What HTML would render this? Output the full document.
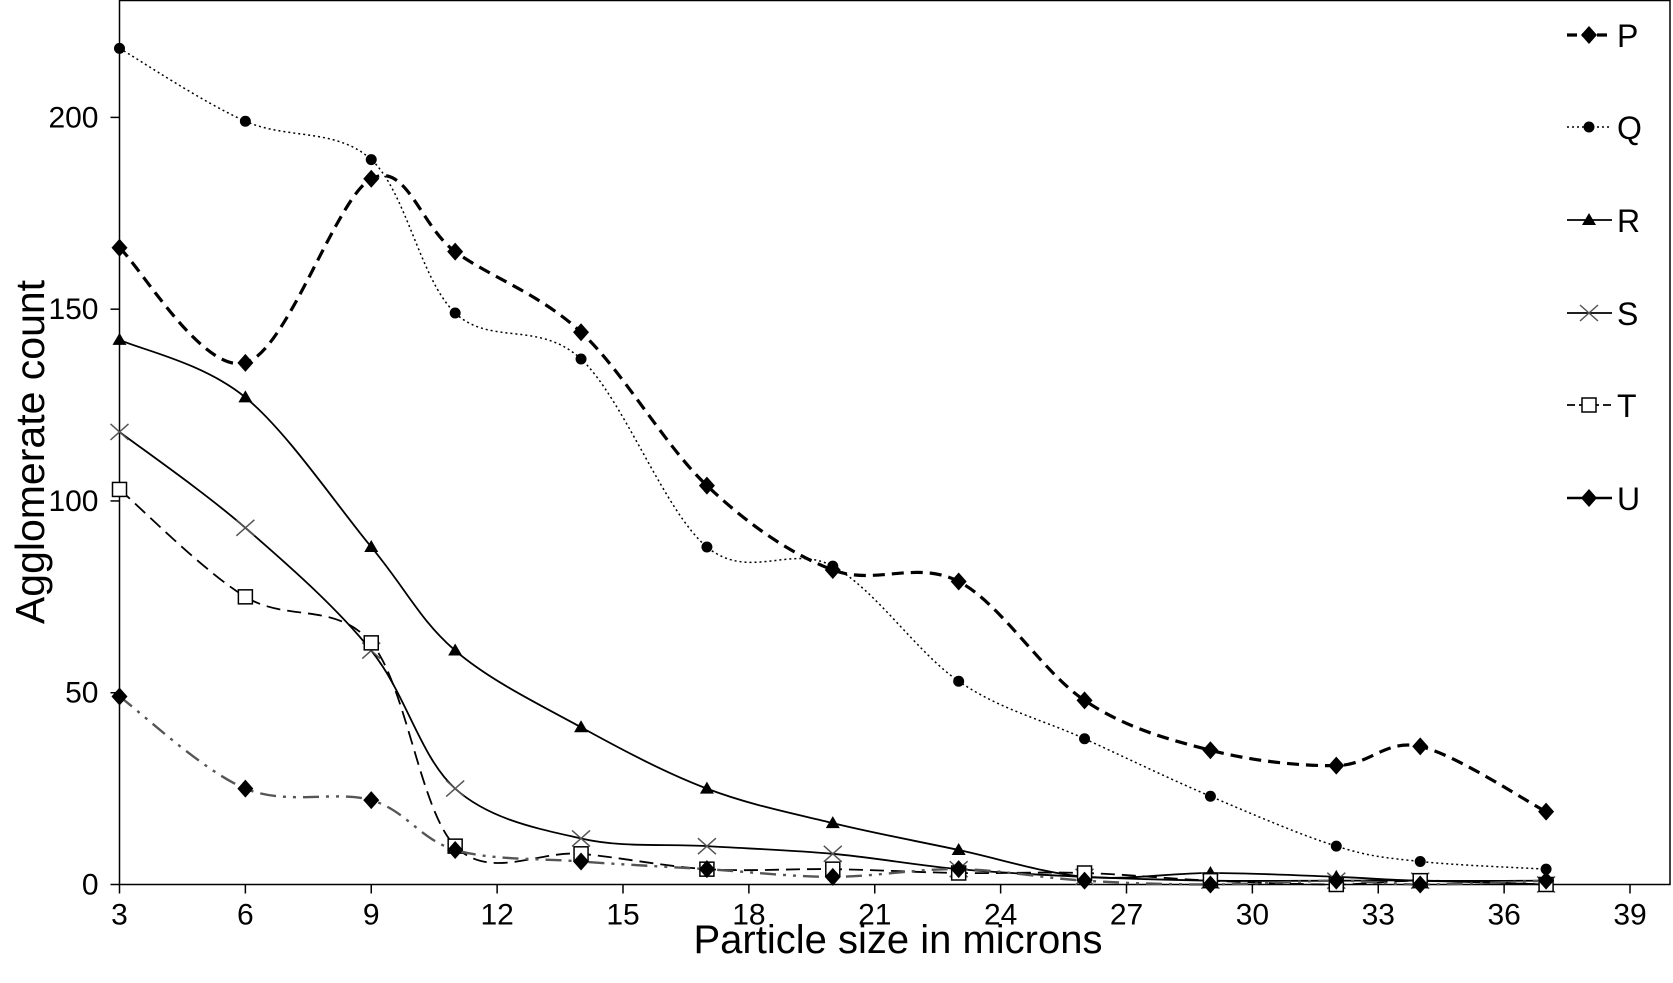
<!DOCTYPE html>
<html><head><meta charset="utf-8"><style>
body{margin:0;background:#fff;}
svg{display:block;font-family:"Liberation Sans",Arial,sans-serif;}
</style></head><body>
<svg id="chart" width="1673" height="983" viewBox="0 0 1673 983">
<g id="axes"></g>
<g id="plot"></g>
<g id="legend"></g>
<text x="0" y="0" transform="translate(44,452) rotate(-90)" text-anchor="middle" font-size="41">Agglomerate count</text>
<text x="898" y="953" text-anchor="middle" font-size="40">Particle size in microns</text>
</svg>
<script>
const xs = [3,6,9,11,14,17,20,23,26,29,32,34,37];
const seriesNames = ['P','Q','R','S','T','U'];
const P = [166,136,184,165,144,104,82,79,48,35,31,36,19];
const Q = [218,199,189,149,137,88,83,53,38,23,10,6,4];
const R = [142,127,88,61,41,25,16,9,2,3,2,1,1];
const S = [118,93,61,25,12,10,8,4,2,1,1,1,0];
const T = [103,75,63,10,8,4,4,3,3,1,0,1,0];
const U = [49,25,22,9,6,4,2,4,1,0,1,0,1];
const xTicks = [3,6,9,12,15,18,21,24,27,30,33,36,39];
const yTicks = [0,50,100,150,200];

const NS='http://www.w3.org/2000/svg';
const X0=119.5, Y0=884.5;
function xPos(v){return X0+(v-3)*(1630-X0)/36;}
function yPos(v){return Y0-v*(Y0-117.4)/200;}
function mk(tag,attrs,parent){const e=document.createElementNS(NS,tag);for(const k in attrs)e.setAttribute(k,attrs[k]);parent.appendChild(e);return e;}

const axes=document.getElementById('axes');
let e;
e=mk('rect',{x:X0,y:0.5,width:1670-X0,height:Y0-0.5,fill:'none',stroke:'#000','stroke-width':1.5},axes);


xTicks.forEach(t=>{
  const l=mk('line',{x1:xPos(t),x2:xPos(t),y1:Y0,y2:Y0+9,stroke:'#000','stroke-width':1.5},axes);
  
  
  const tx=mk('text',{x:xPos(t),y:Y0+40,'text-anchor':'middle','font-size':30},axes);
  tx.textContent=t;
  
  
});
yTicks.forEach(t=>{
  const l=mk('line',{x1:X0-9,x2:X0,y1:yPos(t),y2:yPos(t),stroke:'#000','stroke-width':1.5},axes);
  
  
  const tx=mk('text',{x:X0-21,y:yPos(t)+10,'text-anchor':'end','font-size':30},axes);
  tx.textContent=t;
  
  
});

const styles={
 P:{dash:'12,7',legDash:'10,5',w:3.2,color:'#000',marker:'diamond'},
 Q:{dash:'2,3',legDash:'2,3',w:1.5,color:'#000',marker:'circle'},
 R:{dash:'',legDash:'',w:1.8,color:'#000',marker:'triangle'},
 S:{dash:'',legDash:'',w:1.8,color:'#000',marker:'x'},
 T:{dash:'14,7',legDash:'8,4',w:1.8,color:'#000',marker:'square'},
 U:{dash:'16,7,3,7,3,7',legDash:'',w:2.4,color:'#555',marker:'diamond'}
};
const data={P,Q,R,S,T,U};

function smoothPath(pts){
  let d='M'+pts[0][0]+','+pts[0][1];
  for(let i=0;i<pts.length-1;i++){
    const p0=pts[i-1]||pts[i],p1=pts[i],p2=pts[i+1],p3=pts[i+2]||p2;
    const t=6;
    const c1=[p1[0]+(p2[0]-p0[0])/t,p1[1]+(p2[1]-p0[1])/t];
    const c2=[p2[0]-(p3[0]-p1[0])/t,p2[1]-(p3[1]-p1[1])/t];
    d+=' C'+c1+' '+c2+' '+p2;
  }
  return d;
}
function marker(type,cx,cy,parent){
  let m;
  if(type==='diamond') m=mk('polygon',{points:`${cx},${cy-9} ${cx+8},${cy} ${cx},${cy+9} ${cx-8},${cy}`,fill:'#000'},parent);
  else if(type==='circle') m=mk('circle',{cx,cy,r:5.5,fill:'#000'},parent);
  else if(type==='triangle') m=mk('polygon',{points:`${cx},${cy-7} ${cx+7},${cy+5} ${cx-7},${cy+5}`,fill:'#000'},parent);
  else if(type==='square') m=mk('rect',{x:cx-7,y:cy-7,width:14,height:14,fill:'#fff',stroke:'#000','stroke-width':1.5},parent);
  else { m=mk('path',{d:`M${cx-9},${cy-8}L${cx+9},${cy+8}M${cx-9},${cy+8}L${cx+9},${cy-8}`,stroke:'#555','stroke-width':1.5,fill:'none'},parent); }
  return m;
}
const plot=document.getElementById('plot');
const legend=document.getElementById('legend');
const legY=[35,127,220,313,405,498];
seriesNames.forEach((n,si)=>{
  const st=styles[n];
  const g=mk('g',{},plot);
  
  
  const pts=xs.map((x,i)=>[xPos(x),yPos(data[n][i])]);
  const p=mk('path',{d:smoothPath(pts),fill:'none',stroke:st.color,'stroke-width':st.w,'stroke-dasharray':st.dash},g);
  
  
  pts.forEach(pt=>{
    const m=marker(st.marker,pt[0],pt[1],g);
    
    
  });
  const lg=mk('g',{},legend);
  
  
  const y=legY[si];
  mk('line',{x1:1567,x2:1612,y1:y,y2:y,stroke:'#000','stroke-width':st.w,'stroke-dasharray':st.legDash},lg);
  marker(st.marker,1589,y,lg);
  const tx=mk('text',{x:1617,y:y+12,'font-size':32},lg);
  tx.textContent=n;
});
</script>
</body></html>
